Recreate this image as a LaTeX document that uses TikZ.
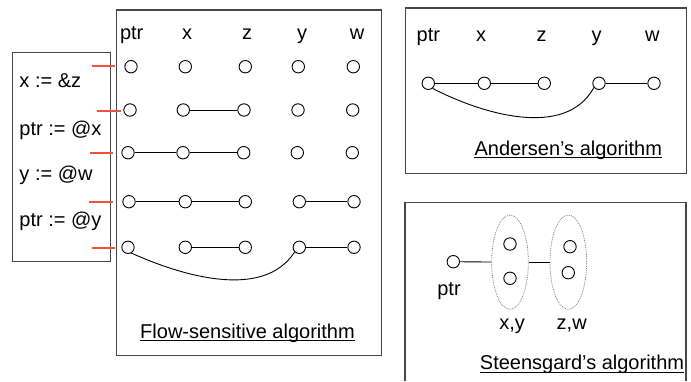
\documentclass[tikz,border=0pt]{standalone}
\usepackage{fontspec}
\setmainfont{Liberation Sans}
\usetikzlibrary{shapes.geometric}
\definecolor{boxgray}{RGB}{70,70,70}
\definecolor{tick}{RGB}{240,80,60}
\tikzset{
  frame/.style={draw=boxgray,line width=1.2pt},
  var/.style={circle,draw=black,line width=0.9pt,minimum size=12.4pt,inner sep=0pt},
  link/.style={draw=black,line width=0.9pt},
  lbl/.style={font=\fontsize{20}{23}\selectfont,inner sep=0pt,anchor=base},
  code/.style={font=\fontsize{20}{23}\selectfont,inner sep=0pt,anchor=base west},
  ticks/.style={draw=tick,line width=1.1pt},
  grp/.style={ellipse,draw=gray,densely dotted,line width=0.8pt,minimum width=36.7pt,minimum height=94.3pt,inner sep=0pt},
  uline/.style={draw=black,line width=0.9pt}
}
\begin{document}
\begin{tikzpicture}[x=1pt,y=-1pt]
\useasboundingbox[fill=white] (0,0) rectangle (691,381);
% boxes
\node[frame,rectangle,minimum width=265.3pt,minimum height=345.7pt,inner sep=0pt,anchor=north west] (fbox) at (115.7,9.3) {};
\node[frame,rectangle,minimum width=98pt,minimum height=209.3pt,inner sep=0pt,anchor=north west] (cbox) at (11.7,51.7) {};
\node[frame,rectangle,minimum width=281pt,minimum height=165.4pt,inner sep=0pt,anchor=north west] (abox) at (405,7.3) {};
\coordinate (s1) at (405,381);
\coordinate (s2) at (405,202.7);
\coordinate (s3) at (686,202.7);
\coordinate (s4) at (686,381);
\draw[frame] (s1) -- (s2) -- (s3) -- (s4);
% column labels (flow-sensitive)
\node[lbl] (hp) at (131.7,39.5) {ptr};
\node[lbl] (hx) at (187,39.5) {x};
\node[lbl] (hz) at (247,39.5) {z};
\node[lbl] (hy) at (302,39.5) {y};
\node[lbl] (hw) at (357,39.5) {w};
% code
\node[code] (c1) at (19.3,87.3) {x := \&z};
\node[code] (c2) at (19.3,135) {ptr := @x};
\node[code] (c3) at (19.3,180) {y := @w};
\node[code] (c4) at (19.3,226.7) {ptr := @y};
% rows
\node[var] (p1) at (131,66.7) {};
\node[var] (x1) at (185.3,66.7) {};
\node[var] (z1) at (245.3,66.7) {};
\node[var] (y1) at (298.3,66.7) {};
\node[var] (w1) at (353.3,66.7) {};
\node[var] (p2) at (130,110) {};
\node[var] (x2) at (183.3,110) {};
\node[var] (z2) at (244,110) {};
\node[var] (y2) at (298,110) {};
\node[var] (w2) at (352.7,110) {};
\node[var] (p3) at (128,152.7) {};
\node[var] (x3) at (183,152.7) {};
\node[var] (z3) at (243.7,152.7) {};
\node[var] (y3) at (297.3,152.7) {};
\node[var] (w3) at (352.3,152.7) {};
\node[var] (p4) at (129,201.7) {};
\node[var] (x4) at (185.3,201.7) {};
\node[var] (z4) at (245.3,201.7) {};
\node[var] (y4) at (299.3,201.7) {};
\node[var] (w4) at (354,201.7) {};
\node[var] (p5) at (128,247.3) {};
\node[var] (x5) at (185.3,247.3) {};
\node[var] (z5) at (245.3,247.3) {};
\node[var] (y5) at (299.3,247.3) {};
\node[var] (w5) at (354,247.3) {};
\draw[link] (x2) -- (z2);
\draw[link] (p3) -- (x3) -- (z3);
\draw[link] (p4) -- (x4) -- (z4);
\draw[link] (y4) -- (w4);
\draw[link] (x5) -- (z5);
\draw[link] (y5) -- (w5);
\draw[link] (p5.-60) .. controls (180,275) and (263,301) .. (y5.-135);
% red ticks
\coordinate (t1a) at (92,66);   \coordinate (t1b) at (115,66);
\coordinate (t2a) at (97,111);  \coordinate (t2b) at (120.7,111);
\coordinate (t3a) at (89.7,153); \coordinate (t3b) at (113,153);
\coordinate (t4a) at (89,202);  \coordinate (t4b) at (112.7,202);
\coordinate (t5a) at (92,248);  \coordinate (t5b) at (115,248);
\draw[ticks] (t1a) -- (t1b);
\draw[ticks] (t2a) -- (t2b);
\draw[ticks] (t3a) -- (t3b);
\draw[ticks] (t4a) -- (t4b);
\draw[ticks] (t5a) -- (t5b);
% flow-sensitive caption
\node[lbl] (fcap) at (247.5,338.3) {Flow-sensitive algorithm};
\draw[uline] ([yshift=-2.6pt]fcap.base west) -- ([yshift=-2.6pt]fcap.base east);
% Andersen
\node[lbl] (ap) at (428.3,41.5) {ptr};
\node[lbl] (ax) at (481,41.5) {x};
\node[lbl] (az) at (541.7,41.5) {z};
\node[lbl] (ay) at (596.7,41.5) {y};
\node[lbl] (aw) at (652.3,41.5) {w};
\node[var] (ap1) at (428.3,83.3) {};
\node[var] (ax1) at (484.3,83.3) {};
\node[var] (az1) at (544.3,83.3) {};
\node[var] (ay1) at (599,83.3) {};
\node[var] (aw1) at (654,83.3) {};
\draw[link] (ap1) -- (ax1) -- (az1);
\draw[link] (ay1) -- (aw1);
\draw[link] (ap1.-50) .. controls (480,113) and (565,140) .. (ay1.-140);
\node[lbl] (acap) at (568.3,155) {Andersen’s algorithm};
\draw[uline] ([yshift=-2.4pt]acap.base west) -- ([yshift=-2.4pt]acap.base east);
% Steensgard
\node[grp] (e1) at (510,262.2) {};
\node[grp] (e2) at (568.3,262.2) {};
\node[var] (sx) at (510,244) {};
\node[var] (sy) at (510,278.3) {};
\node[var] (sz) at (570,246.7) {};
\node[var] (sw) at (568.3,272.7) {};
\node[var] (sp) at (453.3,261.7) {};
\draw[link] (sp) -- (e1);
\draw[link] (e1) -- (e2);
\node[lbl] (spl) at (449,295) {ptr};
\node[lbl] (sxy) at (512.2,329.3) {x,y};
\node[lbl] (szw) at (571.7,329.3) {z,w};
\node[lbl] (scap) at (582,369.3) {Steensgard’s algorithm};
\draw[uline] ([yshift=-2.8pt]scap.base west) -- ([yshift=-2.8pt]scap.base east);
\end{tikzpicture}
\end{document}
